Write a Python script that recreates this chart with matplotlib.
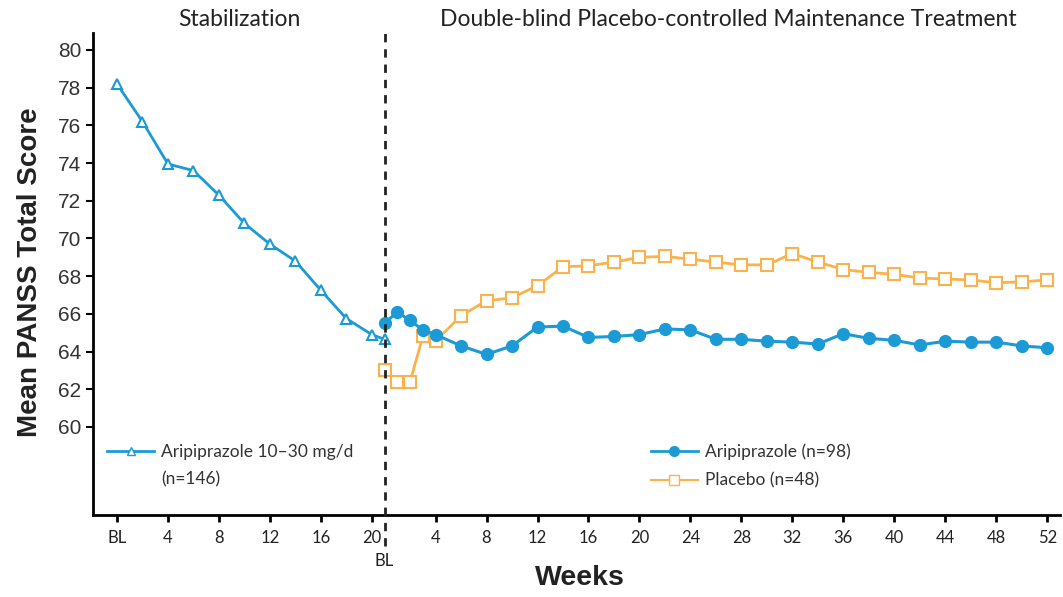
import matplotlib
matplotlib.use("Agg")
import matplotlib.pyplot as plt
import matplotlib.transforms as mtransforms
from matplotlib.lines import Line2D

# Data
stab_weeks = [0, 2, 4, 6, 8, 10, 12, 14, 16, 18, 20, 21]  # last point = double-blind BL
stab_score = [78.2, 76.2, 73.95, 73.6, 72.3, 70.8, 69.7, 68.8, 67.25, 65.75, 64.9, 64.65]

db_weeks = [0, 1, 2, 3, 4, 6, 8, 10, 12, 14, 16, 18, 20, 22, 24, 26, 28, 30,
            32, 34, 36, 38, 40, 42, 44, 46, 48, 50, 52]
arip_score = [65.5, 66.1, 65.65, 65.15, 64.9, 64.3, 63.85, 64.3, 65.3, 65.35,
              64.75, 64.8, 64.9, 65.2, 65.15, 64.65, 64.65, 64.55, 64.5, 64.4,
              64.95, 64.7, 64.6, 64.35, 64.55, 64.5, 64.5, 64.3, 64.2]
plac_score = [63.0, 62.4, 62.4, 64.8, 64.55, 65.9, 66.7, 66.85, 67.5, 68.5,
              68.55, 68.75, 69.0, 69.05, 68.9, 68.75, 68.6, 68.6, 69.2, 68.75,
              68.35, 68.2, 68.1, 67.9, 67.85, 67.8, 67.65, 67.7, 67.8]

stab_ticks = [0, 4, 8, 12, 16, 20]
stab_labels = ["BL", "4", "8", "12", "16", "20"]
db_ticks = [4, 8, 12, 16, 20, 24, 28, 32, 36, 40, 44, 48, 52]
db_labels = [str(t) for t in db_ticks]

DB_OFFSET = 21  # double-blind BL sits one week after stabilization week 20

blue = "#1b9ad6"
orange = "#fbb24c"
tick_font = "Lato"

fig = plt.figure(figsize=(10.63, 5.97), dpi=100)
ax = fig.add_axes([93 / 1063, 82 / 597, (1060 - 93) / 1063, (515 - 33) / 597])

# stabilization phase
ax.plot(stab_weeks, stab_score, color=blue, lw=2, marker="^", markersize=7,
        markerfacecolor="white", markeredgecolor=blue, markeredgewidth=1.5, zorder=3)

# double-blind phase
xs = [w + DB_OFFSET for w in db_weeks]
ax.plot(xs, plac_score, color=orange, lw=2, marker="s", markersize=8,
        markerfacecolor="white", markeredgecolor=orange, markeredgewidth=1.5, zorder=3)
ax.plot(xs, arip_score, color=blue, lw=2.2, marker="o", markersize=8.5,
        markerfacecolor=blue, markeredgecolor=blue, zorder=4)

# dashed phase divider, running a little below the axis
trans = mtransforms.blended_transform_factory(ax.transData, ax.transAxes)
ax.plot([DB_OFFSET, DB_OFFSET], [-0.065, 1.0], transform=trans, color="#222222",
        lw=2, ls=(0, (3, 2.5)), clip_on=False, zorder=5)

ax.set_xlim(-1.88, 74.0)
ax.set_ylim(55.33, 80.9)

ax.set_yticks(range(60, 81, 2))
ax.tick_params(axis="y", labelsize=15, width=1.5, length=5, direction="out")
for lab in ax.get_yticklabels():
    lab.set_family("Liberation Sans")
    lab.set_color("#333333")

ticks = stab_ticks + [t + DB_OFFSET for t in db_ticks]
labels = stab_labels + db_labels
ax.set_xticks(ticks)
ax.set_xticklabels(labels, family=tick_font, fontsize=12, color="#222222")
ax.tick_params(axis="x", width=2, length=5, direction="out", pad=6)
# second-row "BL" under the divider
ax.text(DB_OFFSET, -0.095, "BL", transform=trans, family=tick_font, fontsize=12,
        color="#222222", ha="center", va="center")

for s in ["top", "right"]:
    ax.spines[s].set_visible(False)
for s in ["left", "bottom"]:
    ax.spines[s].set_linewidth(2)

fig.text(30 / 1063, 1 - 272 / 597, "Mean PANSS Total Score", family="Liberation Sans",
         fontsize=20, fontweight="bold", color="#222222", rotation=90,
         ha="center", va="center")
fig.text(580 / 1063, 1 - 578 / 597, "Weeks", family="Liberation Sans", fontsize=20.5,
         fontweight="bold", color="#222222", ha="center", va="center")

fig.text(239 / 1063, 1 - 19 / 597, "Stabilization", family=tick_font, fontsize=16.5,
         color="#222222", ha="center", va="center")
fig.text(728 / 1063, 1 - 19 / 597, "Double-blind Placebo-controlled Maintenance Treatment",
         family=tick_font, fontsize=16.5, color="#222222", ha="center", va="center")

# legends
h_stab = Line2D([], [], color=blue, lw=2, marker="^", markersize=6,
                markerfacecolor="white", markeredgecolor=blue)
leg1 = ax.legend([h_stab], ["Aripiprazole 10\u201330 mg/d"],
                 loc="upper left", bbox_to_anchor=(0.006, 0.165), frameon=False,
                 prop={"family": tick_font, "size": 12.5},
                 handlelength=2.7, handletextpad=0.4, borderpad=0)
for t in leg1.get_texts():
    t.set_color("#333333")
ax.add_artist(leg1)
# second line of the stabilization legend entry
fig.text(161 / 1063, 1 - 479 / 597, "(n=146)", family=tick_font, fontsize=12.5,
         color="#333333", ha="left", va="center")

h_arip = Line2D([], [], color=blue, lw=2, marker="o", markersize=7,
                markerfacecolor=blue, markeredgecolor=blue)
h_plac = Line2D([], [], color=orange, lw=1.5, marker="s", markersize=7,
                markerfacecolor="white", markeredgecolor=orange)
leg2 = ax.legend([h_arip, h_plac], ["Aripiprazole (n=98)", "Placebo (n=48)"],
                 loc="upper left", bbox_to_anchor=(0.568, 0.167), frameon=False,
                 prop={"family": tick_font, "size": 12.5}, handlelength=2.7,
                 handletextpad=0.4, labelspacing=0.75, borderpad=0)
for t in leg2.get_texts():
    t.set_color("#333333")

fig.savefig("out.png", dpi=100)
